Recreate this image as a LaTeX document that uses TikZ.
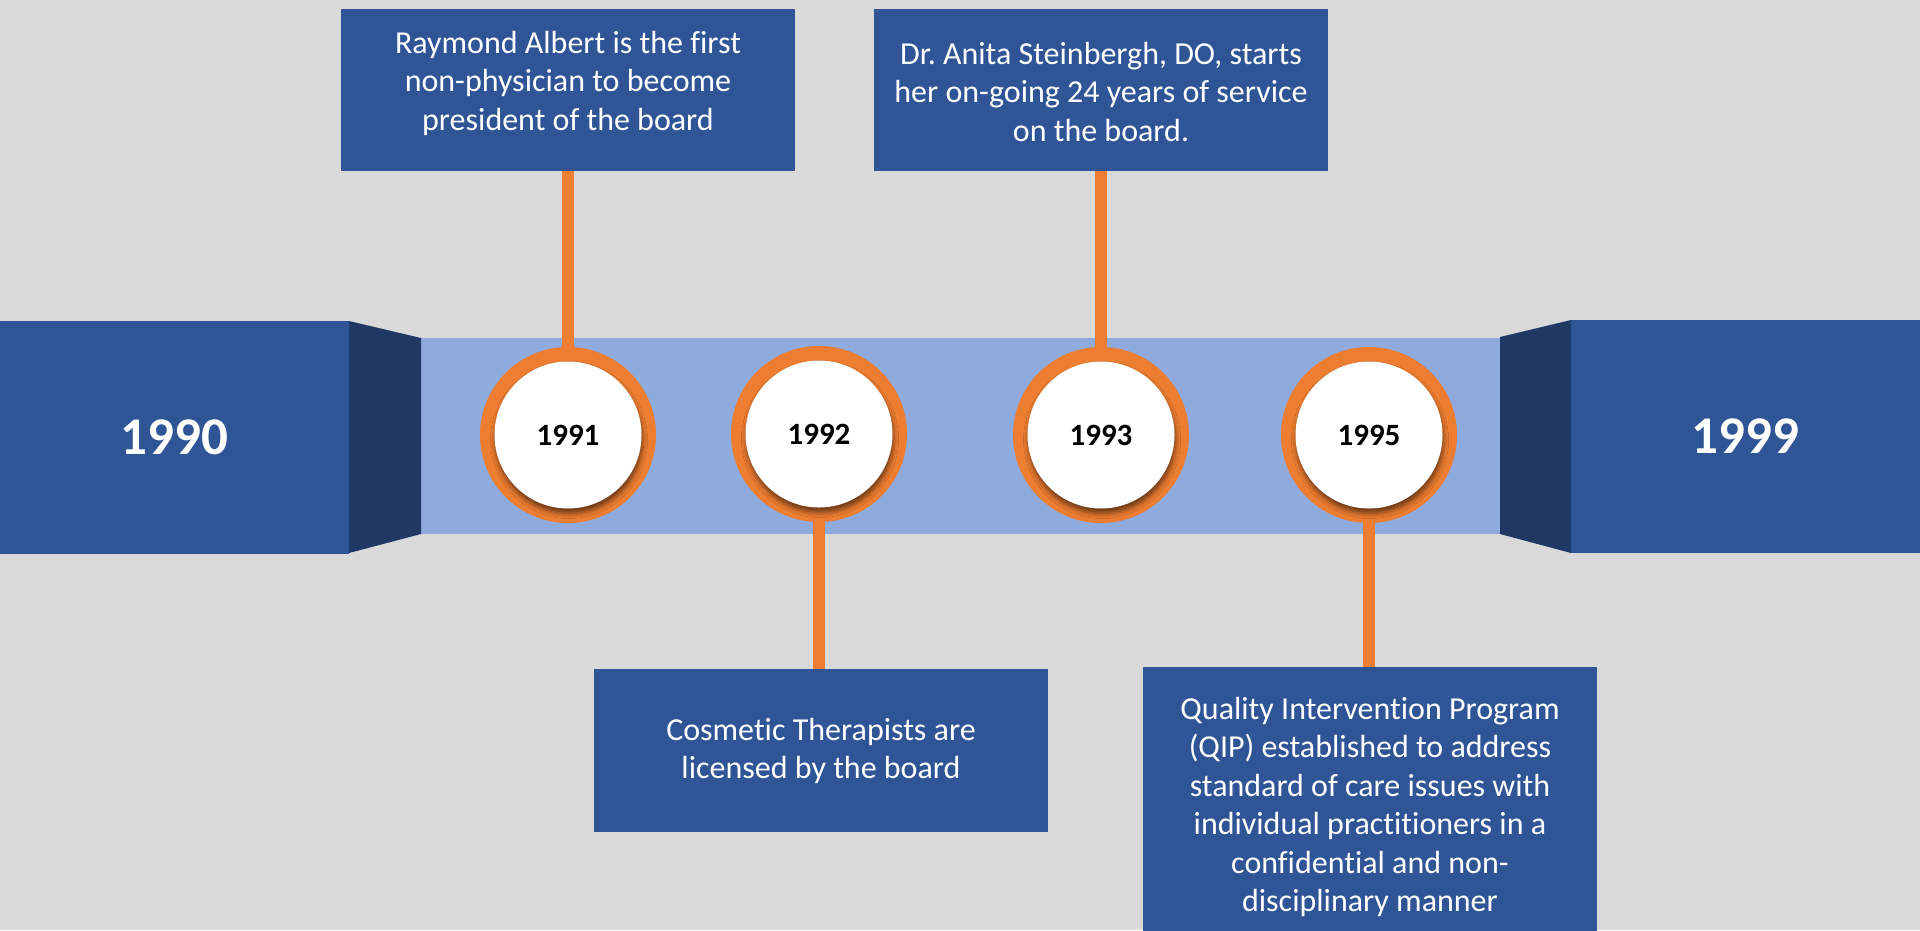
\documentclass[tikz,border=0pt]{standalone}
\usepackage{fontspec}
\setmainfont{Carlito}[Ligatures=NoCommon]
\frenchspacing
\usetikzlibrary{shadows.blur}
\definecolor{bg}{HTML}{D9D9D9}
\definecolor{boxblue}{HTML}{2F5597}
\definecolor{darkblue}{HTML}{203864}
\definecolor{bandblue}{HTML}{8FAADC}
\definecolor{orng}{HTML}{ED7D31}
\tikzset{
  eventbox/.style={fill=boxblue, draw=none, minimum width=454pt, inner sep=0pt},
  eventtext/.style={text=white, align=center, inner sep=0pt, font=\fontsize{32}{38.5}\selectfont},
  endblock/.style={fill=boxblue, draw=none, minimum width=349pt, minimum height=233pt, inner sep=0pt, text=white, font=\bfseries\fontsize{53}{60}\selectfont},
  ring/.style={circle, fill=orng, draw=none, minimum size=176pt, inner sep=0pt},
  disc/.style={circle, fill=white, draw=none, minimum size=147pt, inner sep=0pt, font=\bfseries\fontsize{31}{36}\selectfont,
    blur shadow={shadow xshift=1pt, shadow yshift=-5pt, shadow blur radius=5pt, shadow opacity=55}},
  stem/.style={draw=orng, line width=12pt}
}
\begin{document}
\begin{tikzpicture}[x=1pt,y=-1pt]
\fill[bg] (0,0) rectangle (1920,930);
\useasboundingbox (0,0) rectangle (1920,930);
% band and end pieces
\fill[bandblue] (421,338) rectangle (1500,534);
\fill[darkblue] (349,321) -- (421,338) -- (421,534) -- (349,553) -- cycle;
\fill[darkblue] (1500,337) -- (1571,320) -- (1571,553) -- (1500,534) -- cycle;
\node[endblock] (y1990) at (174.5,437) {1990};
\node[endblock] (y1999) at (1745.5,436.5) {1999};
% event boxes
\node[eventbox, minimum height=162pt] (b1) at (568,90) {};
\node[eventbox, minimum height=162pt] (b2) at (1101,90) {};
\node[eventbox, minimum height=163pt] (b3) at (821,750.5) {};
\node[eventbox, minimum height=275pt] (b4) at (1370,804.5) {};
\node[eventtext] (t1) at (568,83) {Raymond Albert is the first\\non-physician to become\\president of the board};
\node[eventtext] (t2) at (1101,92) {Dr. Anita Steinbergh, DO, starts\\her on-going 24 years of service\\on the board.};
\node[eventtext] (t3) at (821,751) {Cosmetic Therapists are\\licensed by the board};
\node[eventtext] (t4) at (1370,807) {Quality Intervention Program\\(QIP) established to address\\standard of care issues with\\individual practitioners in a\\confidential and non-\\disciplinary manner};
% circles
\coordinate (p1) at (568,435);
\coordinate (p2) at (819,434);
\coordinate (p3) at (1101,435);
\coordinate (p4) at (1369,435);
\draw[stem] (b1.south -| p1) -- (p1);
\draw[stem] (p2) -- (p2 |- b3.north);
\draw[stem] (b2.south -| p3) -- (p3);
\draw[stem] (p4) -- (p4 |- b4.north);
\node[ring] (c1) at (p1) {};
\node[ring] (c2) at (p2) {};
\node[ring] (c3) at (p3) {};
\node[ring] (c4) at (p4) {};
\node[disc] (d1) at (c1) {1991};
\node[disc] (d2) at (c2) {1992};
\node[disc] (d3) at (c3) {1993};
\node[disc] (d4) at (c4) {1995};
\end{tikzpicture}
\end{document}
